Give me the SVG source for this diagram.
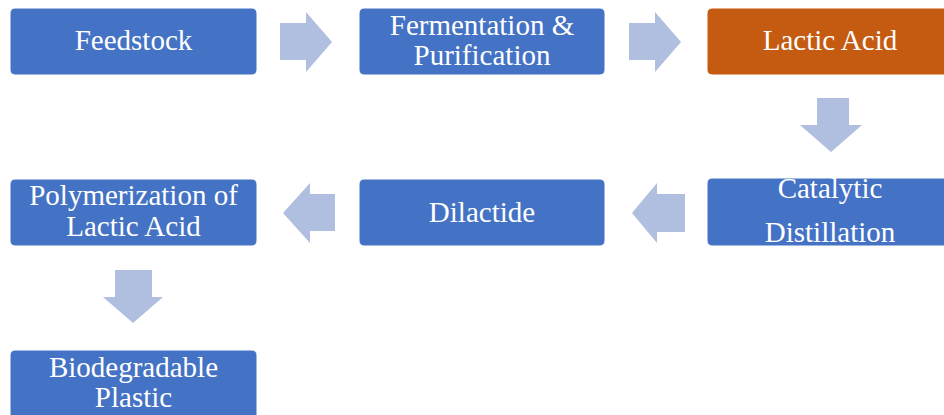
<svg xmlns="http://www.w3.org/2000/svg" width="944" height="415" viewBox="0 0 944 415">
<style>
.box{fill:#4472C4;stroke:#ffffff;stroke-width:1}
.hl{fill:#C55A11}
.t{font-family:"Liberation Serif","Times New Roman",serif;font-size:29px;fill:#ffffff;text-anchor:middle}
.arr{fill:#B0BEE0}
</style>
<rect width="944" height="415" fill="#ffffff"/>
<g id="connectors">
<polygon class="arr" points="280,23 306,23 306,12 332,42 306,72 306,60 280,60"/>
<polygon class="arr" points="629,23 655,23 655,12 681,42 655,72 655,60 629,60"/>
<polygon class="arr" points="817,98 849,98 849,125 862,125 831,152 800,125 817,125"/>
<polygon class="arr" points="685,194 657,194 657,183 632,213 657,243 657,232 685,232"/>
<polygon class="arr" points="335,194 310,194 310,183 283,213 310,243 310,231 335,231"/>
<polygon class="arr" points="115,270 152,270 152,297 163,297 133,323 103,297 115,297"/>
</g>
<g id="feedstock">
<rect class="box" x="10" y="8" width="247" height="67" rx="5"/>
<text class="t" x="133.5" y="50">Feedstock</text>
</g>
<g id="fermentation">
<rect class="box" x="359" y="8" width="246" height="67" rx="5"/>
<text class="t" x="482" y="35">Fermentation &amp;</text>
<text class="t" x="482" y="65">Purification</text>
</g>
<g id="lactic-acid">
<rect class="box hl" x="707" y="8" width="246" height="67" rx="5"/>
<text class="t" x="830" y="50">Lactic Acid</text>
</g>
<g id="catalytic-distillation">
<rect class="box" x="707" y="178" width="246" height="68" rx="5"/>
<text class="t" x="830" y="198">Catalytic</text>
<text class="t" x="830" y="242">Distillation</text>
</g>
<g id="dilactide">
<rect class="box" x="359" y="179" width="246" height="67" rx="5"/>
<text class="t" x="482" y="222">Dilactide</text>
</g>
<g id="polymerization">
<rect class="box" x="10" y="179" width="247" height="67" rx="5"/>
<text class="t" x="133.5" y="205">Polymerization of</text>
<text class="t" x="133.5" y="236">Lactic Acid</text>
</g>
<g id="biodegradable-plastic">
<rect class="box" x="10" y="350" width="247" height="75" rx="5"/>
<text class="t" x="133.5" y="377">Biodegradable</text>
<text class="t" x="133.5" y="407">Plastic</text>
</g>
</svg>
